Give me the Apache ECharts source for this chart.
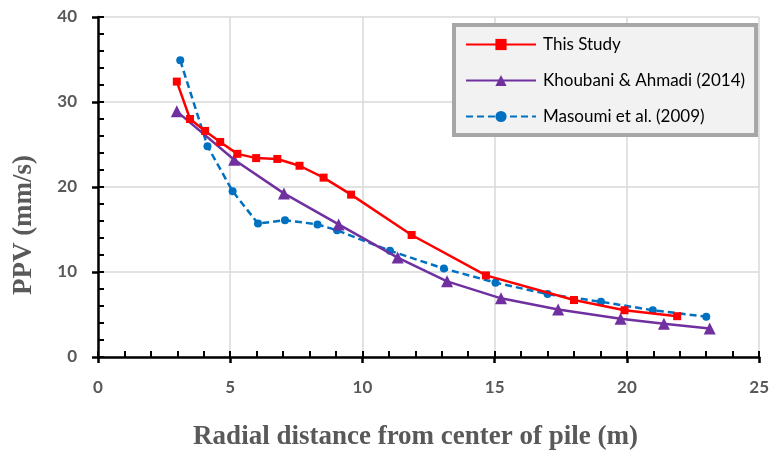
<!DOCTYPE html>
<html>
<head>
<meta charset="utf-8">
<script src="https://cdn.jsdelivr.net/npm/echarts@6/dist/echarts.min.js"></script>
<style>html,body{margin:0;padding:0;background:#fff;}#c{width:772px;height:457px;}</style>
</head>
<body>
<div id="c"></div>
<script>
const seriesNames = ['This Study', 'Khoubani & Ahmadi (2014)', 'Masoumi et al. (2009)'];
const thisStudyX = [2.98, 3.48, 4.05, 4.62, 5.27, 5.98, 6.78, 7.62, 8.53, 9.57, 11.86, 14.67, 18.0, 19.91, 21.9];
const thisStudyY = [32.4, 28.0, 26.6, 25.3, 23.9, 23.4, 23.3, 22.5, 21.1, 19.1, 14.35, 9.6, 6.7, 5.5, 4.8];
const khoubaniX = [2.98, 5.15, 7.03, 9.1, 11.33, 13.2, 15.24, 17.4, 19.76, 21.4, 23.13];
const khoubaniY = [28.9, 23.2, 19.25, 15.6, 11.7, 8.9, 6.9, 5.6, 4.5, 3.9, 3.35];
const masoumiX = [3.11, 4.14, 5.09, 6.05, 7.07, 8.3, 9.04, 11.04, 13.08, 15.03, 17.0, 19.02, 20.98, 23.0];
const masoumiY = [34.9, 24.8, 19.5, 15.7, 16.1, 15.6, 14.9, 12.5, 10.4, 8.75, 7.4, 6.5, 5.5, 4.75];
const xTicks = [0, 5, 10, 15, 20, 25];
const yTicks = [0, 10, 20, 30, 40];

const zip = (xs, ys) => xs.map((x, i) => [x, ys[i]]);
const tickFont = {fontFamily: 'Lato', fontWeight: 'bold', fontSize: 17, color: '#595959'};
const chart = echarts.init(document.getElementById('c'), null, {renderer: 'canvas'});
const grid = {left: 98, right: 10, top: 17, bottom: 100};
chart.setOption({
  animation: false,
  grid: grid,
  legend: {
    orient: 'vertical', left: 454, top: 25,
    padding: [11, 11, 10, 11],
    backgroundColor: '#f2f2f2', borderColor: '#a6a6a6', borderWidth: 4, borderRadius: 0,
    itemWidth: 70, itemHeight: 14, itemGap: 19,
    textStyle: {fontFamily: 'Lato', fontSize: 17, color: '#000', padding: [0, 0, 0, 2]},
    data: seriesNames
  },
  xAxis: [{
    type: 'value', min: xTicks[0], max: xTicks[xTicks.length - 1], interval: 5,
    name: 'Radial distance from center of pile (m)', nameLocation: 'middle', nameGap: 67,
    nameTextStyle: {fontFamily: 'Liberation Serif', fontWeight: 'bold', fontSize: 27, color: '#595959', padding: [0, 26, 0, 0]},
    axisLine: {lineStyle: {color: '#000', width: 2.5}},
    axisTick: {show: true, length: 6, inside: false, lineStyle: {color: '#000', width: 2.5}},
    axisLabel: Object.assign({margin: 22, formatter: v => xTicks.includes(v) ? String(v) : ''}, tickFont),
    splitLine: {show: true, lineStyle: {color: '#d9d9d9', width: 1.5}}
  }, {
    type: 'value', min: 0, max: 25, interval: 5, position: 'bottom',
    axisLine: {show: false}, axisLabel: {show: false}, splitLine: {show: false},
    axisTick: {show: true, inside: true, length: 6, lineStyle: {color: '#000', width: 2}},
    minorTick: {show: true, splitNumber: 5, length: 6, lineStyle: {color: '#000', width: 2}}
  }],
  yAxis: [{
    type: 'value', min: yTicks[0], max: yTicks[yTicks.length - 1], interval: 10,
    name: 'PPV (mm/s)', nameLocation: 'middle', nameGap: 60,
    nameTextStyle: {fontFamily: 'Liberation Serif', fontWeight: 'bold', fontSize: 27, color: '#595959', padding: [0, 76, 0, 0]},
    axisLine: {show: true, lineStyle: {color: '#000', width: 2.5}},
    axisTick: {show: true, length: 6, inside: false, lineStyle: {color: '#000', width: 2.5}},
    axisLabel: Object.assign({margin: 21}, tickFont),
    splitLine: {show: true, lineStyle: {color: '#d9d9d9', width: 1.5}}
  }, {
    type: 'value', min: 0, max: 40, interval: 10, position: 'left',
    axisLine: {show: false}, axisLabel: {show: false}, splitLine: {show: false},
    axisTick: {show: true, inside: true, length: 6, lineStyle: {color: '#000', width: 2}},
    minorTick: {show: true, splitNumber: 5, length: 6, lineStyle: {color: '#000', width: 2}}
  }],
  series: [{
    name: seriesNames[0], type: 'line', data: zip(thisStudyX, thisStudyY),
    symbol: 'rect', symbolSize: 8, color: '#ff0000',
    lineStyle: {color: '#ff0000', width: 2.5}, itemStyle: {color: '#ff0000'}, z: 4
  }, {
    name: seriesNames[1], type: 'line', data: zip(khoubaniX, khoubaniY),
    symbol: 'triangle', symbolSize: 12, color: '#7030a0',
    lineStyle: {color: '#7030a0', width: 2.5}, itemStyle: {color: '#7030a0'}, z: 3
  }, {
    name: seriesNames[2], type: 'line', data: zip(masoumiX, masoumiY),
    symbol: 'circle', symbolSize: 8, color: '#0070c0',
    lineStyle: {color: '#0070c0', width: 2.5, type: [7, 4]}, itemStyle: {color: '#0070c0'}, z: 2
  }]
});
</script>
</body>
</html>
